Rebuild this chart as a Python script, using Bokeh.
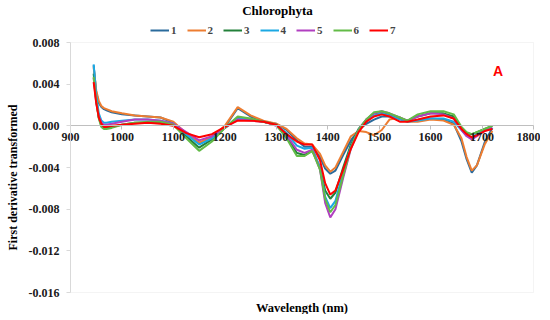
from bokeh.plotting import figure
from bokeh.models import (Range1d, FixedTicker, PrintfTickFormatter, Legend, LegendItem,
                          Label, BoxAnnotation)
from bokeh.embed import file_html
from bokeh.resources import INLINE

wavelength = [945, 950, 955, 960, 965, 970, 980, 1000, 1025, 1050, 1075, 1100, 1125, 1150,
              1175, 1200, 1225, 1250, 1275, 1300, 1320, 1340, 1355, 1370, 1385, 1395, 1405,
              1415, 1430, 1445, 1460, 1475, 1490, 1505, 1520, 1540, 1555, 1575, 1600, 1625,
              1645, 1660, 1670, 1680, 1690, 1705, 1720]

s1 = [0.0058, 0.0032, 0.0022, 0.0018, 0.0016, 0.0015, 0.0013, 0.0011, 0.0010, 0.0009, 0.0008,
      0.0003, -0.0008, -0.0017, -0.0012, -0.0001, 0.0017, 0.0009, 0.0004, 0.0002, -0.0004,
      -0.0014, -0.0020, -0.0020, -0.0030, -0.0041, -0.0046, -0.0043, -0.0028, -0.0014,
      -0.0004, 0.0002, 0.0006, 0.0009, 0.0009, 0.0007, 0.0005, 0.0005, 0.0007, 0.0006,
      0.0002, -0.0015, -0.0032, -0.0045, -0.0038, -0.0016, -0.0002]
s2 = [0.0056, 0.0034, 0.0024, 0.0019, 0.0017, 0.0016, 0.0014, 0.0012, 0.0010, 0.0009, 0.0008,
      0.0004, -0.0007, -0.0016, -0.0011, 0.0000, 0.0018, 0.0010, 0.0005, 0.0002, -0.0003,
      -0.0012, -0.0017, -0.0018, -0.0027, -0.0038, -0.0044, -0.0040, -0.0025, -0.0010,
      -0.0005, -0.0006, -0.0009, -0.0004, 0.0006, 0.0008, 0.0004, 0.0004, 0.0006, 0.0005,
      0.0001, -0.0012, -0.0030, -0.0043, -0.0038, -0.0018, -0.0005]
s3 = [0.0050, 0.0025, 0.0008, 0.0000, -0.0002, -0.0002, -0.0001, 0.0001, 0.0003, 0.0003,
      0.0003, 0.0001, -0.0010, -0.0021, -0.0013, -0.0002, 0.0008, 0.0006, 0.0004, 0.0001,
      -0.0010, -0.0026, -0.0028, -0.0024, -0.0040, -0.0062, -0.0070, -0.0064, -0.0040,
      -0.0018, -0.0003, 0.0006, 0.0012, 0.0013, 0.0011, 0.0007, 0.0005, 0.0009, 0.0012,
      0.0012, 0.0009, -0.0002, -0.0007, -0.0008, -0.0006, -0.0003, 0.0000]
s4 = [0.0059, 0.0030, 0.0012, 0.0005, 0.0003, 0.0003, 0.0004, 0.0005, 0.0006, 0.0006, 0.0005,
      0.0002, -0.0008, -0.0018, -0.0012, -0.0002, 0.0007, 0.0006, 0.0004, 0.0001, -0.0007,
      -0.0019, -0.0022, -0.0021, -0.0040, -0.0068, -0.0079, -0.0072, -0.0045, -0.0020,
      -0.0004, 0.0005, 0.0010, 0.0012, 0.0010, 0.0006, 0.0004, 0.0005, 0.0007, 0.0007,
      0.0004, -0.0004, -0.0009, -0.0011, -0.0008, -0.0004, -0.0002]
s5 = [0.0046, 0.0022, 0.0009, 0.0003, 0.0001, 0.0001, 0.0002, 0.0004, 0.0006, 0.0006, 0.0005,
      0.0002, -0.0006, -0.0014, -0.0010, -0.0002, 0.0006, 0.0005, 0.0004, 0.0000, -0.0009,
      -0.0023, -0.0026, -0.0023, -0.0042, -0.0074, -0.0088, -0.0080, -0.0050, -0.0022,
      -0.0004, 0.0006, 0.0012, 0.0014, 0.0012, 0.0008, 0.0005, 0.0009, 0.0012, 0.0011,
      0.0007, -0.0004, -0.0010, -0.0013, -0.0010, -0.0005, -0.0002]
s6 = [0.0047, 0.0024, 0.0007, -0.0001, -0.0003, -0.0003, -0.0002, 0.0001, 0.0003, 0.0004,
      0.0004, 0.0001, -0.0012, -0.0024, -0.0015, -0.0002, 0.0009, 0.0007, 0.0004, 0.0001,
      -0.0012, -0.0029, -0.0029, -0.0024, -0.0042, -0.0070, -0.0083, -0.0076, -0.0048,
      -0.0021, -0.0004, 0.0006, 0.0013, 0.0014, 0.0012, 0.0008, 0.0005, 0.0011, 0.0014,
      0.0014, 0.0011, -0.0001, -0.0006, -0.0008, -0.0006, -0.0003, 0.0000]
s7 = [0.0042, 0.0022, 0.0008, 0.0002, -0.0001, -0.0001, 0.0000, 0.0001, 0.0002, 0.0003,
      0.0002, 0.0000, -0.0007, -0.0011, -0.0008, -0.0001, 0.0005, 0.0005, 0.0004, 0.0001,
      -0.0008, -0.0015, -0.0018, -0.0018, -0.0033, -0.0055, -0.0066, -0.0062, -0.0042,
      -0.0022, -0.0006, 0.0004, 0.0009, 0.0011, 0.0009, 0.0004, 0.0004, 0.0006, 0.0009,
      0.0010, 0.0007, -0.0003, -0.0008, -0.0011, -0.0009, -0.0005, -0.0003]

series = [s1, s2, s3, s4, s5, s6, s7]
names = ["1", "2", "3", "4", "5", "6", "7"]
colors = ["#2A6B9C", "#ED7D31", "#23803A", "#1BA8E3", "#B13FC0", "#62BB47", "#FF0000"]

x_ticks = [900, 1000, 1100, 1200, 1300, 1400, 1500, 1600, 1700, 1800]
y_ticks = [-0.016, -0.012, -0.008, -0.004, 0.0, 0.004, 0.008]
X_MIN, X_MAX = 900, 1800
Y_MIN, Y_MAX = -0.016, 0.008

# ---- layout (pixels) ----
W, H = 540, 314
PL, PR, PT, PB = 70, 533, 42, 292   # plot-area box inside the figure
SERIF = "Liberation Serif"

# the whole figure is the frame so titles / legend / edge labels are not clipped
dx = (X_MAX - X_MIN) / (PR - PL)
dy = (Y_MAX - Y_MIN) / (PB - PT)
xr = Range1d(X_MIN - PL * dx, X_MAX + (W - PR) * dx)
yr = Range1d(Y_MIN - (H - PB) * dy, Y_MAX + PT * dy)

p = figure(width=W, height=H, output_backend="svg", toolbar_location=None,
           x_range=xr, y_range=yr,
           min_border_left=0, min_border_right=0, min_border_top=0, min_border_bottom=0)
p.grid.visible = False
p.outline_line_color = None
p.background_fill_color = "white"
p.border_fill_color = "white"

# plot-area border
p.add_layout(BoxAnnotation(left=X_MIN, right=X_MAX, bottom=Y_MIN, top=Y_MAX,
                           fill_alpha=0, line_color="#d9d9d9", line_width=1, level="underlay"))

# x axis at y = 0
xa = p.xaxis[0]
xa.fixed_location = 0
xa.bounds = (X_MIN, X_MAX)
xa.ticker = FixedTicker(ticks=x_ticks)
xa.axis_line_color = "#bfbfbf"
xa.major_tick_line_color = "#bfbfbf"
xa.major_tick_out = 4
xa.major_tick_in = 0
xa.minor_tick_line_color = None
xa.major_label_standoff = 3
xa.major_label_text_font = SERIF
xa.major_label_text_font_style = "bold"
xa.major_label_text_font_size = "12px"
xa.major_label_text_color = "#1a1a1a"

# y axis at x = 900
ya = p.yaxis[0]
ya.fixed_location = X_MIN
ya.bounds = (Y_MIN, Y_MAX)
ya.ticker = FixedTicker(ticks=y_ticks)
ya.formatter = PrintfTickFormatter(format="%.3f")
ya.axis_line_color = "#d9d9d9"
ya.major_tick_line_color = "#d9d9d9"
ya.major_tick_out = 4
ya.major_tick_in = 0
ya.minor_tick_line_color = None
ya.major_label_standoff = 7
ya.major_label_text_font = SERIF
ya.major_label_text_font_style = "bold"
ya.major_label_text_font_size = "12px"
ya.major_label_text_color = "#1a1a1a"

renderers = []
for s, n, c in zip(series, names, colors):
    r = p.line(wavelength, s, line_color=c, line_width=2)
    renderers.append((n, r))

legend = Legend(items=[LegendItem(label=n, renderers=[r]) for n, r in renderers],
                orientation="horizontal", location=(150, H - 36),
                label_text_font=SERIF, label_text_font_style="bold",
                label_text_font_size="11px", glyph_width=19, glyph_height=10,
                label_standoff=2, label_width=5, spacing=10, padding=2, margin=0,
                border_line_color=None, background_fill_alpha=0,
                label_height=10)
p.add_layout(legend, "center")

# texts placed in screen units
p.add_layout(Label(x=277, y=H - 10, x_units="screen", y_units="screen", text="Chlorophyta",
                   text_font=SERIF, text_font_style="bold", text_font_size="13px",
                   text_align="center", text_baseline="middle", text_color="#000000"))
p.add_layout(Label(x=(PL + PR) / 2, y=H - 307, x_units="screen", y_units="screen",
                   text="Wavelength (nm)", text_font=SERIF, text_font_style="bold",
                   text_font_size="12.5px", text_align="center", text_baseline="middle",
                   text_color="#000000"))
p.add_layout(Label(x=12, y=H - 177, x_units="screen", y_units="screen",
                   text="First derivative transformed", angle=90, angle_units="deg",
                   text_font=SERIF, text_font_style="bold", text_font_size="12px",
                   text_align="center", text_baseline="middle", text_color="#000000"))

p.add_layout(Label(x=1731, y=0.0053, text="A", text_color="#FF0000",
                   text_font="Liberation Sans", text_font_style="bold", text_font_size="14px",
                   text_align="center", text_baseline="middle"))

open("out.html", "w").write(file_html(p, INLINE))
